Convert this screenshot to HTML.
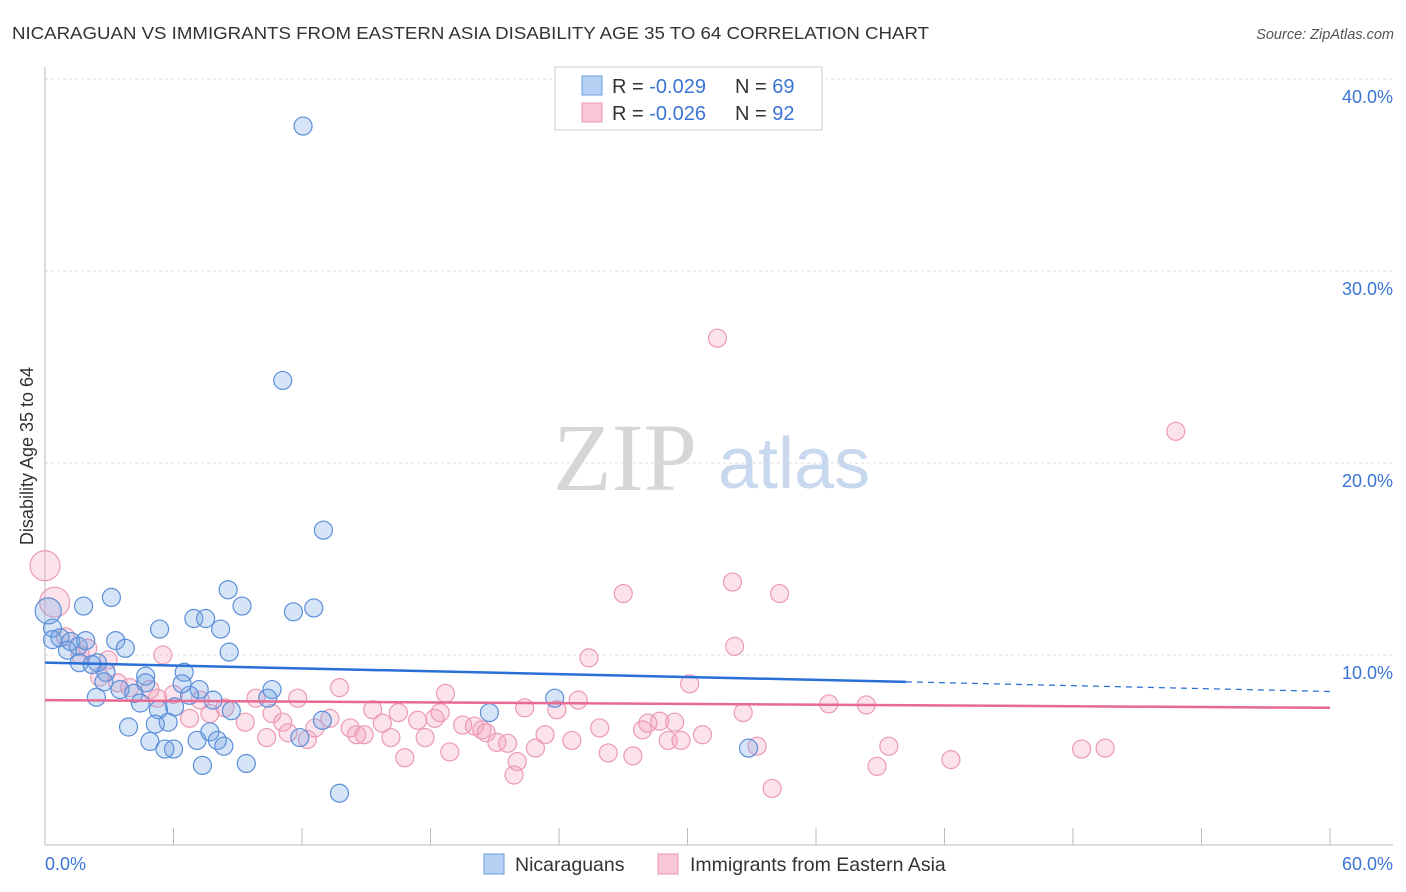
<!DOCTYPE html>
<html><head><meta charset="utf-8"><style>
body{margin:0;background:#fff;font-family:"Liberation Sans",sans-serif;}
svg{display:block}
</style></head><body>
<svg id="chart" width="1406" height="892" xmlns="http://www.w3.org/2000/svg">
<text x="12" y="39" font-size="17.5" fill="#333" textLength="917" lengthAdjust="spacingAndGlyphs">NICARAGUAN VS IMMIGRANTS FROM EASTERN ASIA DISABILITY AGE 35 TO 64 CORRELATION CHART</text>
<text x="1394" y="39" font-size="14.5" fill="#555" font-style="italic" text-anchor="end">Source: ZipAtlas.com</text>
<g>
<text x="553" y="490" font-family="Liberation Serif,serif" font-size="96" fill="#d6d6d6">ZIP</text>
<text x="718" y="488" font-size="72" fill="#c8d8ee">atlas</text>
</g>
<g id="grid"></g>
<g id="axes"></g>
<g id="marks"></g>
<text transform="translate(33,456) rotate(-90)" font-size="18" fill="#333" text-anchor="middle">Disability Age 35 to 64</text>
<g>
<rect x="555" y="67" width="267" height="63" fill="#fff" stroke="#ccc"/>
<rect x="582" y="76" width="20" height="19" fill="#b6d0f3" stroke="#6b9de0"/>
<rect x="582" y="103" width="20" height="19" fill="#f8c6d5" stroke="#ec98b2"/>
<text x="612" y="93" font-size="20" fill="#333">R = <tspan fill="#3a74d4">-0.029</tspan></text>
<text x="735" y="93" font-size="20" fill="#333">N = <tspan fill="#3a74d4">69</tspan></text>
<text x="612" y="120" font-size="20" fill="#333">R = <tspan fill="#3a74d4">-0.026</tspan></text>
<text x="735" y="120" font-size="20" fill="#333">N = <tspan fill="#3a74d4">92</tspan></text>
</g>
<g>
<rect x="484" y="854" width="20" height="20" fill="#b6d0f3" stroke="#6b9de0"/>
<text x="515" y="871" font-size="19.5" fill="#333">Nicaraguans</text>
<rect x="658" y="854" width="20" height="20" fill="#f8c6d5" stroke="#ec98b2"/>
<text x="690" y="871" font-size="19.5" fill="#333">Immigrants from Eastern Asia</text>
</g>
</svg>
<script>
const yTicks=[10,20,30,40];
const yTickLabels=["10.0%","20.0%","30.0%","40.0%"];
const xTickLabels=["0.0%","60.0%"];
const blueX=[12.05,11.1,13.0,8.55,9.2,11.6,12.55,3.1,1.8,6.95,7.5,5.35,8.2,8.6,3.3,3.75,0.35,0.35,0.7,1.2,1.55,1.9,1.05,1.6,2.45,2.2,2.85,2.75,3.5,4.7,4.7,6.5,7.2,6.75,4.15,4.45,2.4,6.05,5.3,6.4,7.85,8.7,3.9,5.75,5.15,4.9,7.1,7.7,8.05,8.35,6.0,5.6,7.35,9.4,10.6,10.4,12.95,11.9,13.75,20.75,23.8,32.85,0.15];
const blueY=[37.55,24.3,16.5,13.4,12.55,12.25,12.45,13.0,12.55,11.9,11.9,11.35,11.35,10.15,10.75,10.35,11.4,10.8,10.9,10.7,10.45,10.75,10.25,9.6,9.6,9.5,9.1,8.6,8.2,8.9,8.55,9.1,8.2,7.9,8.0,7.5,7.8,7.3,7.15,8.5,7.65,7.1,6.25,6.5,6.4,5.5,5.55,6.0,5.55,5.25,5.1,5.1,4.25,4.35,8.2,7.75,6.6,5.7,2.8,7.0,7.75,5.15,12.3];
const blueR=[9,9,9,9,9,9,9,9,9,9,9,9,9,9,9,9,9,9,9,9,9,9,9,9,9,9,9,9,9,9,9,9,9,9,9,9,9,9,9,9,9,9,9,9,9,9,9,9,9,9,9,9,9,9,9,9,9,9,9,9,9,9,13];
const pinkX=[0,0.45,0.95,2.0,1.65,2.95,5.5,2.55,3.4,3.95,4.9,5.25,6.0,7.25,7.7,8.4,6.75,9.35,9.85,10.35,10.6,11.8,11.1,12.6,12.25,11.35,13.3,13.75,14.25,14.55,14.9,15.3,15.75,16.15,16.5,16.8,17.4,17.75,18.2,18.7,18.45,18.9,19.5,20.05,20.4,20.6,21.1,21.6,22.05,21.9,22.4,22.9,23.35,23.9,24.6,24.9,25.4,25.9,26.3,27.0,27.45,27.9,28.15,28.7,29.1,29.4,29.7,30.1,30.7,31.4,32.1,32.2,32.6,33.25,33.95,34.3,36.6,38.35,38.85,39.4,42.3,48.4,49.5,52.8];
const pinkY=[14.65,12.75,10.95,10.35,10.0,9.75,10.0,8.85,8.55,8.3,8.2,7.75,7.95,7.65,6.95,7.25,6.7,6.5,7.75,5.7,6.95,7.75,6.5,6.2,5.6,5.95,6.7,8.3,6.2,5.85,5.85,7.15,6.45,5.7,7.0,4.65,6.6,5.7,6.7,8.0,7.0,4.95,6.35,6.3,6.1,5.95,5.45,5.4,4.45,3.75,7.25,5.15,5.85,7.15,5.55,7.65,9.85,6.2,4.9,13.2,4.75,6.1,6.45,6.55,5.55,6.5,5.55,8.5,5.85,26.5,13.8,10.45,7.0,5.25,3.05,13.2,7.45,7.4,4.2,5.25,4.55,5.1,5.15,21.65];
const blueTrend=[9.6,8.6,8.1];
const pinkTrend=[7.65,7.25];
const NS="http://www.w3.org/2000/svg";
const X=v=>45+v*(1285/60);
const Y=v=>847-v*19.2;
function mk(parent,tag,attrs){const e=document.createElementNS(NS,tag);for(const k in attrs)e.setAttribute(k,attrs[k]);document.getElementById(parent).appendChild(e);return e;}
yTicks.forEach((t,i)=>{
 const g=mk('grid','line',{x1:45,x2:1393,y1:Y(t),y2:Y(t),stroke:'#ddd','stroke-dasharray':'3,3'});
 
 
 const l=mk('axes','text',{x:1393,y:Y(t)+24,'font-size':18,fill:'#3a74d4','text-anchor':'end'});
 l.textContent=yTickLabels[i];
 
 
});
const ax=mk('axes','line',{x1:45,x2:45,y1:67,y2:845,stroke:'#bbb'});


const bx=mk('axes','line',{x1:45,x2:1393,y1:845,y2:845,stroke:'#bbb'});


for(let i=0;i<=10;i++){
 const t=mk('axes','line',{x1:X(i*6),x2:X(i*6),y1:828,y2:845,stroke:'#bbb'});
 
 
}
const xl0=mk('axes','text',{x:45,y:870,'font-size':18,fill:'#3a74d4'});
xl0.textContent=xTickLabels[0];


const xl1=mk('axes','text',{x:1393,y:870,'font-size':18,fill:'#3a74d4','text-anchor':'end'});
xl1.textContent=xTickLabels[1];


pinkX.forEach((x,i)=>{
 const c=mk('marks','circle',{cx:X(x),cy:Y(pinkY[i]),r:(i<2?15:9),fill:'rgba(242,160,188,0.3)',stroke:'#eb9ab4','stroke-width':1.2});
 
 
});
blueX.forEach((x,i)=>{
 const c=mk('marks','circle',{cx:X(x),cy:Y(blueY[i]),r:blueR[i],fill:'rgba(120,165,230,0.3)',stroke:'#5b8fd9','stroke-width':1.2});
 
 
});
const bt=mk('marks','line',{x1:X(0),y1:Y(blueTrend[0]),x2:X(40.2),y2:Y(blueTrend[1]),stroke:'#2a6fd6','stroke-width':2.5});


const bd=mk('marks','line',{x1:X(40.2),y1:Y(blueTrend[1]),x2:X(60),y2:Y(blueTrend[2]),stroke:'#2a6fd6','stroke-width':1.2,'stroke-dasharray':'6,5'});


const pt=mk('marks','line',{x1:X(0),y1:Y(pinkTrend[0]),x2:X(60),y2:Y(pinkTrend[1]),stroke:'#e86a93','stroke-width':2.5});


</script>
</body></html>
